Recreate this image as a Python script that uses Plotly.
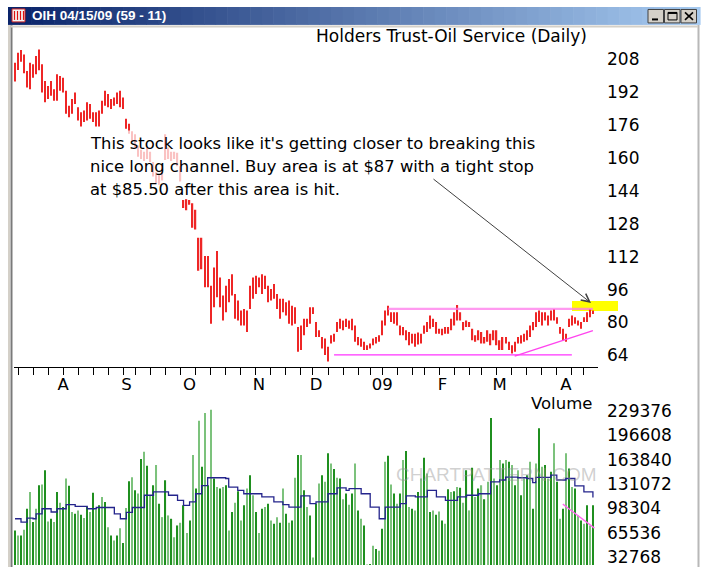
import plotly.graph_objects as go
import pandas as pd

W, H = 704, 569

# ---------------- data ----------------
holidays = ['2008-09-01', '2008-11-27', '2008-12-25', '2009-01-01',
            '2009-01-19', '2009-02-16', '2009-04-10']
dates = [d for d in pd.bdate_range('2008-07-10', '2009-04-15')
         if d.strftime('%Y-%m-%d') not in holidays]
idx = list(range(len(dates)))

month_labels = ['A', 'S', 'O', 'N', 'D', '09', 'F', 'M', 'A']

high = [206.3, 211.1, 212.4, 210.3, 202.2, 206.3, 205.5, 209.5, 212.7, 205.5,
        197.4, 195.0, 197.4, 193.4, 200.6, 199.8, 199.0, 192.6, 185.4, 188.6,
        191.8, 184.6, 182.2, 183.0, 187.0, 186.2, 182.2, 182.2, 183.0, 187.8,
        192.6, 191.0, 188.6, 189.4, 191.8, 192.6, 189.4, 179.0, 176.6, 173.0,
        171.5, 166.0, 164.0, 163.0, 165.0, 163.0, 158.0, 153.0, 152.0, 156.0,
        171.5, 165.0, 163.0, 163.0, 162.5, 156.0, 139.6, 140.0, 139.6, 138.0,
        134.8, 121.2, 121.2, 112.3, 112.3, 97.9, 106.7, 114.7, 101.9, 93.1,
        97.9, 101.1, 103.5, 93.9, 90.7, 85.8, 86.6, 85.8, 97.9, 101.9,
        102.7, 101.9, 103.5, 102.7, 97.9, 96.3, 98.7, 93.9, 91.5, 91.5,
        89.8, 90.7, 88.2, 87.4, 77.8, 78.6, 81.8, 81.8, 87.4, 87.4,
        80.2, 76.2, 73.0, 72.2, 68.2, 73.8, 74.6, 80.2, 81.8, 81.0,
        81.8, 81.0, 81.8, 78.6, 73.0, 72.2, 70.6, 69.0, 69.8, 72.2,
        73.0, 73.8, 81.0, 85.8, 88.2, 85.0, 85.0, 85.0, 78.6, 77.8,
        76.2, 75.4, 74.6, 74.6, 75.1, 74.6, 78.6, 80.2, 83.4, 81.8,
        80.2, 77.0, 77.0, 77.8, 77.8, 81.8, 85.0, 88.5, 85.0, 80.2,
        81.0, 80.2, 77.0, 73.8, 76.2, 75.4, 73.0, 76.2, 74.6, 76.2,
        76.2, 71.4, 73.0, 73.0, 70.6, 69.0, 70.6, 73.0, 73.8, 74.6,
        76.2, 78.6, 80.2, 85.0, 85.8, 85.0, 85.0, 83.4, 85.8, 86.6,
        82.6, 77.8, 77.0, 74.6, 81.8, 83.4, 82.6, 81.0, 80.2, 82.6,
        85.0, 86.6, 85.8]

low = [197.1, 202.7, 206.7, 201.1, 194.2, 193.4, 199.0, 200.6, 202.6, 191.8,
       187.0, 188.6, 190.2, 187.8, 187.8, 192.6, 191.8, 181.4, 179.8, 181.4,
       186.2, 178.2, 175.3, 177.4, 178.2, 179.0, 177.4, 175.3, 175.3, 181.4,
       185.4, 184.6, 183.8, 185.4, 186.2, 184.6, 183.8, 174.2, 171.7, 168.0,
       165.0, 160.5, 159.5, 158.5, 159.5, 158.0, 151.0, 147.5, 147.0, 149.0,
       159.0, 159.5, 158.5, 159.5, 156.0, 148.5, 135.6, 134.5, 137.2, 126.0,
       125.2, 105.1, 105.9, 97.1, 97.1, 79.4, 87.4, 92.3, 87.4, 81.0,
       85.0, 89.8, 93.1, 81.8, 81.0, 78.6, 78.6, 75.4, 86.6, 91.5,
       93.9, 97.1, 93.9, 96.3, 89.8, 90.7, 91.5, 86.6, 81.8, 85.0,
       83.4, 79.4, 78.6, 79.4, 65.8, 66.6, 73.8, 77.8, 79.4, 84.2,
       73.0, 73.0, 67.4, 64.2, 61.0, 69.8, 70.6, 75.4, 77.0, 76.2,
       77.8, 77.0, 76.2, 70.6, 69.0, 68.2, 66.6, 66.6, 67.4, 69.0,
       69.8, 70.6, 73.8, 78.6, 83.4, 80.2, 79.4, 78.6, 73.8, 73.8,
       71.4, 69.0, 69.8, 68.2, 69.3, 69.8, 74.6, 75.4, 77.0, 77.8,
       74.6, 74.6, 73.8, 74.6, 74.6, 76.2, 78.6, 81.0, 81.0, 76.2,
       77.8, 77.8, 71.4, 70.6, 71.4, 69.8, 69.8, 70.6, 69.0, 71.4,
       69.0, 66.6, 66.6, 69.8, 66.6, 65.0, 65.8, 69.8, 69.8, 70.6,
       71.4, 73.0, 76.2, 77.8, 80.2, 78.6, 81.0, 78.6, 81.0, 81.0,
       79.4, 74.6, 71.4, 70.6, 77.8, 78.6, 79.4, 78.6, 77.0, 80.2,
       80.2, 82.6, 84.2]

volume = [68500, 61700, 61700, 69400, 97800, 120400, 79800, 97800, 129500, 130400,
          149800, 80700, 84300, 79800, 120400, 106000, 100100, 138500, 128600, 93300,
          91000, 95600, 89700, 85200, 100100, 93300, 119500, 96900, 102400, 113700,
          106900, 73000, 61700, 54900, 61700, 71600, 51700, 98700, 134900, 140300,
          122700, 118200, 164700, 174700, 155700, 115900, 129500, 156600, 104600, 86500,
          136300, 88800, 84300, 59400, 75300, 78900, 102400, 65300, 82000, 170100,
          125000, 216200, 154300, 226600, 129500, 231100, 138500, 127200, 125000, 127200,
          129500, 68500, 93300, 106000, 121300, 82000, 102400, 125000, 143000, 115900,
          93300, 65300, 97800, 100100, 104600, 82000, 77500, 86500, 78900, 125000,
          91000, 78900, 82000, 139400, 170100, 170100, 122700, 100100, 88800, 32300,
          104600, 131700, 143000, 134000, 172400, 158800, 151200, 139400, 138500, 110500,
          118200, 103300, 118200, 158800, 95600, 84300, 75300, 22800, 23300, 48100,
          43600, 41400, 70700, 161100, 169200, 130400, 118200, 104600, 118200, 163400,
          175600, 100100, 97800, 95600, 120400, 138500, 166500, 145300, 93300, 95600,
          89700, 94200, 82000, 77500, 124000, 120400, 121300, 127200, 125900, 106000,
          149800, 95600, 153000, 113700, 125000, 129500, 110500, 134000, 219900, 138500,
          129500, 163400, 158800, 163400, 161100, 156600, 129500, 149800, 115900, 138500,
          143000, 161100, 97800, 158800, 206300, 154300, 156600, 138500, 147500, 186000,
          134000, 84300, 97800, 172400, 152100, 127200, 125000, 88800, 82000, 77500,
          102400, 75300, 102400]

# volume moving average (at these bar positions)
ma_idx = [0, 2, 4, 6, 7, 9, 12, 14, 17, 20, 24, 27, 29, 33, 35, 37, 39, 43, 46, 48,
          51, 54, 56, 58, 60, 62, 64, 67, 70, 71, 74, 76, 79, 82, 86, 89, 91, 95, 98,
          100, 104, 107, 110, 111, 115, 118, 121, 123, 128, 130, 133, 137, 140, 143,
          147, 150, 154, 158, 161, 163, 167, 170, 172, 173, 178, 180, 183, 186, 189, 192]
ma_val = [84300, 79800, 85200, 84300, 91000, 97800, 93400, 97800, 103300, 101000,
          97800, 99500, 99500, 91000, 84300, 93000, 99500, 116000, 120500, 120500,
          116000, 109000, 102300, 107000, 118000, 129000, 139500, 139500, 138500, 127000,
          122600, 118000, 118000, 113700, 107000, 103300, 100100, 115000, 104600,
          107000, 118000, 126000, 122600, 125000, 118000, 100100, 84300, 100100, 104600,
          115000, 113700, 122600, 113700, 109000, 113700, 116000, 118000, 134000, 136500,
          140300, 139500, 138500, 133000, 140000, 143000, 136500, 138500, 128600, 120500,
          113000]

price_ticks = [64, 80, 96, 112, 128, 144, 160, 176, 192, 208]
vol_ticks = [32768, 65536, 98304, 131072, 163840, 196608, 229376]

# drawn trend lines: (bar index, value) end points
resistance = ([124, 192], [86.6, 86.6])
support = ([106, 185], [64.3, 64.3])
rising_support = ([166, 192], [63.7, 76.1])
volume_trend = ([182, 192.5], [104000, 71700])

# ---------------- helpers ----------------
def px(x):
    return x / W


def py(y):
    return 1 - y / H


X0, X1 = 14, 598            # plot area pixels


def bar_x(pix):
    return (pix - 15) / 3.01


P_Y64, P_SCALE = 356.7, 2.065


def price_at(ypix):
    return 64 + (P_Y64 - ypix) / P_SCALE


V_SCALE = 32768 / 24.42


def vol_at(ypix):
    return 32768 + (559 - ypix) * V_SCALE


month_idx = [i for i in idx[1:] if dates[i].month != dates[i - 1].month]
week_idx = [i for i in idx[:-1]
            if dates[i + 1].isocalendar()[1] != dates[i].isocalendar()[1]]

FONT = 'DejaVu Sans'
ARIAL = 'Liberation Sans, Arial'

fig = go.Figure()

fig.add_trace(go.Bar(
    x=idx, y=[h - l for h, l in zip(high, low)], base=low,
    width=0.42, marker=dict(color='#ee2626', line=dict(width=0)),
    xaxis='x', yaxis='y', hoverinfo='skip'))

vol_colors = ['#1f8f1f' if i % 2 == 0 else '#7cc27c' for i in idx]
fig.add_trace(go.Bar(
    x=idx, y=volume, width=0.38,
    marker=dict(color=vol_colors, line=dict(width=0)),
    xaxis='x2', yaxis='y2', hoverinfo='skip'))

fig.add_trace(go.Scatter(
    x=ma_idx, y=ma_val, mode='lines', line=dict(color='#24248c', width=1.3, shape='hv'),
    xaxis='x2', yaxis='y2', hoverinfo='skip'))

for (lx, ly), col, wd, ax in [(resistance, 'rgba(255,120,235,0.75)', 2.2, 'y'),
                              (support, '#ff33ff', 1.4, 'y'),
                              (rising_support, '#ff44ee', 1.4, 'y'),
                              (volume_trend, '#ff66ee', 1.3, 'y2')]:
    fig.add_trace(go.Scatter(x=lx, y=ly, mode='lines', line=dict(color=col, width=wd),
                             xaxis='x' if ax == 'y' else 'x2', yaxis=ax, hoverinfo='skip'))

# current-bar diamond under the axis
fig.add_trace(go.Scatter(x=[idx[-1]], y=[price_at(374)], mode='markers',
                         marker=dict(symbol='diamond-tall', size=11, color='black'),
                         cliponaxis=False, xaxis='x', yaxis='y', hoverinfo='skip'))

shapes = []
# window chrome -------------------------------------------------
c0 = (10, 36, 106)
c1 = (166, 202, 240)
n = 60
x_start, x_end = 8, 700
for k in range(n):
    t = k / (n - 1)
    col = tuple(int(c0[j] + (c1[j] - c0[j]) * t) for j in range(3))
    xa = x_start + (x_end - x_start) * k / n
    xb = x_start + (x_end - x_start) * (k + 1) / n + 0.6
    shapes.append(dict(type='rect', xref='paper', yref='paper', x0=px(xa), x1=px(xb),
                       y0=py(25), y1=py(7), fillcolor='rgb(%d,%d,%d)' % col,
                       line=dict(width=0), layer='above'))
# frame borders
shapes.append(dict(type='line', xref='paper', yref='paper', x0=px(11.5), x1=px(11.5),
                   y0=py(25), y1=py(569), line=dict(color='#7a7a7a', width=2), layer='above'))
shapes.append(dict(type='line', xref='paper', yref='paper', x0=px(9), x1=px(9),
                   y0=py(25), y1=py(569), line=dict(color='#d4d0c8', width=2), layer='above'))
shapes.append(dict(type='line', xref='paper', yref='paper', x0=px(698.5), x1=px(698.5),
                   y0=py(25), y1=py(569), line=dict(color='#b8b8b8', width=2), layer='above'))
shapes.append(dict(type='line', xref='paper', yref='paper', x0=px(11), x1=px(698),
                   y0=py(26.5), y1=py(26.5), line=dict(color='#d4d0c8', width=2), layer='above'))
# title icon
shapes.append(dict(type='rect', xref='paper', yref='paper', x0=px(12), x1=px(25),
                   y0=py(22), y1=py(9), fillcolor='#f4f4f4', line=dict(color='#cc2222', width=1),
                   layer='above'))
for k in range(4):
    xx = 14.5 + k * 3
    shapes.append(dict(type='line', xref='paper', yref='paper', x0=px(xx), x1=px(xx),
                       y0=py(20), y1=py(11), line=dict(color='#dd1111', width=1.2), layer='above'))
# window buttons
for bx in [648, 664.5, 681]:
    shapes.append(dict(type='rect', xref='paper', yref='paper', x0=px(bx), x1=px(bx + 15.5),
                       y0=py(23), y1=py(9.5), fillcolor='#d4d0c8',
                       line=dict(color='#404040', width=1), layer='above'))
shapes.append(dict(type='line', xref='paper', yref='paper', x0=px(652), x1=px(658),
                   y0=py(19.5), y1=py(19.5), line=dict(color='black', width=2), layer='above'))
shapes.append(dict(type='rect', xref='paper', yref='paper', x0=px(668), x1=px(677),
                   y0=py(20), y1=py(12.5), line=dict(color='black', width=1), layer='above'))
shapes.append(dict(type='line', xref='paper', yref='paper', x0=px(668), x1=px(677),
                   y0=py(13), y1=py(13), line=dict(color='black', width=2), layer='above'))
shapes.append(dict(type='line', xref='paper', yref='paper', x0=px(685), x1=px(693),
                   y0=py(12.5), y1=py(20), line=dict(color='black', width=1.6), layer='above'))
shapes.append(dict(type='line', xref='paper', yref='paper', x0=px(685), x1=px(693),
                   y0=py(20), y1=py(12.5), line=dict(color='black', width=1.6), layer='above'))

# yellow buy-area highlight
shapes.append(dict(type='rect', xref='paper', yref='paper', x0=px(572), x1=px(618),
                   y0=py(312), y1=py(302), fillcolor='#ffff00', line=dict(width=0),
                   layer='below'))
# faded note background
shapes.append(dict(type='rect', xref='paper', yref='paper', x0=px(85), x1=px(545),
                   y0=py(200), y1=py(131), fillcolor='rgba(255,255,255,0.72)',
                   line=dict(width=0), layer='above'))

annotations = [
    dict(text='OIH 04/15/09 (59 - 11)', x=px(30), y=py(16), xanchor='left', yanchor='middle',
         xref='paper', yref='paper', showarrow=False,
         font=dict(family=ARIAL, size=13.5, color='white', weight='bold')),
    dict(text='Holders Trust-Oil Service (Daily)', x=px(589), y=py(36), xanchor='right',
         yanchor='middle', xref='paper', yref='paper', showarrow=False,
         font=dict(family=FONT, size=17, color='black')),
    dict(text='Volume', x=px(561), y=py(404.5), xanchor='center', yanchor='middle',
         xref='paper', yref='paper', showarrow=False,
         font=dict(family=FONT, size=16.5, color='black')),
    dict(text='CHARTPATTERN.COM', x=px(496), y=py(476), xanchor='center', yanchor='middle',
         xref='paper', yref='paper', showarrow=False,
         font=dict(family=ARIAL, size=19, color='rgba(150,150,150,0.45)')),
    dict(text='', x=px(591), y=py(304), xref='paper', yref='paper', showarrow=True,
         ax=-159, ay=-125, arrowhead=5, arrowsize=1.6, arrowwidth=1, arrowcolor='#404040'),
]
note_lines = ["This stock looks like it's getting closer to breaking this",
              "nice long channel. Buy area is at $87 with a tight stop",
              "at $85.50 after this area is hit."]
for k, line in enumerate(note_lines):
    annotations.append(dict(text=line, x=px(88), y=py(144 + 23 * k), xanchor='left',
                            yanchor='middle', xref='paper', yref='paper', showarrow=False,
                            font=dict(family=FONT, size=16.4, color='black')))

fig.update_layout(
    width=W, height=H, margin=dict(l=0, r=0, t=0, b=0),
    paper_bgcolor='white', plot_bgcolor='white', showlegend=False,
    shapes=shapes, annotations=annotations,
    xaxis=dict(domain=[px(X0), px(X1)], range=[bar_x(X0), bar_x(X1)], anchor='y',
               tickmode='array', tickvals=month_idx, ticktext=month_labels,
               ticks='outside', ticklen=2, tickcolor='rgba(0,0,0,0)',
               minor=dict(tickmode='array', tickvals=week_idx, ticks='outside', ticklen=7,
                          tickcolor='black', tickwidth=1),
               showline=True, linecolor='black', linewidth=1, showgrid=False, zeroline=False,
               tickfont=dict(family=FONT, size=16.5, color='black')),
    xaxis2=dict(domain=[px(X0), px(X1)], range=[bar_x(X0), bar_x(X1)], anchor='y2',
                matches='x', visible=False),
    yaxis=dict(domain=[py(368), py(28)], range=[price_at(368), price_at(28)], anchor='x',
               side='right', tickmode='array', tickvals=price_ticks, ticks='',
               showline=False, showgrid=False, zeroline=False, ticklabelstandoff=8,
               tickfont=dict(family=FONT, size=17, color='black')),
    yaxis2=dict(domain=[py(567), py(390)], range=[vol_at(567), vol_at(390)], anchor='x2',
                side='right', tickmode='array', tickvals=vol_ticks,
                ticktext=[str(v) for v in vol_ticks], ticks='',
                showline=False, showgrid=False, zeroline=False, ticklabelstandoff=8,
                tickfont=dict(family=FONT, size=17, color='black')),
)

fig.write_html('out.html', config={'displayModeBar': False},
               post_script="document.body.style.margin='0';document.body.style.overflow='hidden';")
